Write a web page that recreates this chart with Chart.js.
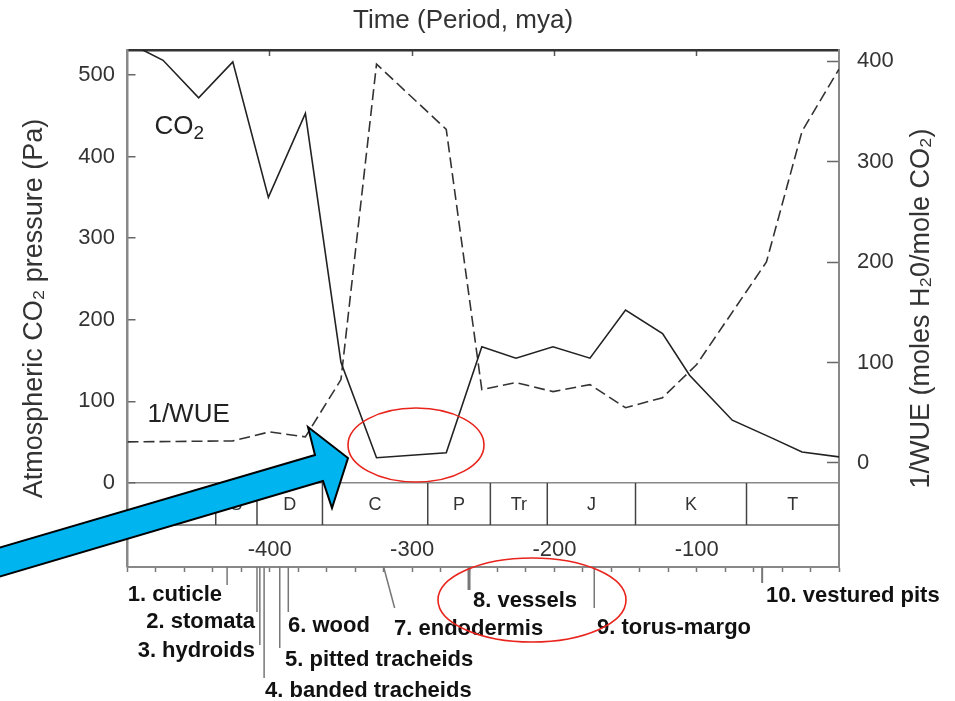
<!DOCTYPE html>
<html lang="en">
<head>
<meta charset="UTF-8">
<title>Atmospheric CO2 and 1/WUE through time</title>
<script src="https://cdn.jsdelivr.net/npm/chart.js@4.4.0/dist/chart.umd.min.js"></script>
<style>
    body { margin: 0; background: #fff; }
    #wrap { width: 955px; height: 701px; }
</style>
</head>
<body>
<div id="wrap"><canvas id="chart" width="955" height="701"></canvas></div>
<script>
// CO2 curve (time in mya, pressure in Pa) - left axis
const co2Mya = [-500, -475, -450, -426, -401, -375, -350, -325, -276, -251, -227, -201, -175, -150, -124, -105, -75, -47, -26, 0];
const co2Pa  = [540, 518, 472, 516, 350, 453, 148, 31, 37, 167, 153, 167, 153, 212, 183, 132, 77, 55, 38, 32];

// 1/WUE curve (time in mya, moles H2O per mole CO2) - right axis
const wueMya = [-500, -426, -400, -375, -350, -325, -276, -251, -227, -201, -175, -150, -124, -100, -51, -26, 0];
const wueVal = [21, 22, 31, 26, 83, 397, 332, 73, 80, 71, 78, 55, 65, 98, 200, 330, 392];

// tick labels
const co2Ticks = [0, 100, 200, 300, 400, 500];
const wueTicks = [0, 100, 200, 300, 400];
const timeLabels = [-400, -300, -200, -100];

// geological periods (start, mya)
const periodNames = ['O', 'S', 'D', 'C', 'P', 'Tr', 'J', 'K', 'T'];
const periodStart = [-500, -438, -409, -363, -289, -245, -205, -143, -65];
const periodEnd = 0;

// innovations in water transport (mya)
const innovationNames = ['1. cuticle', '2. stomata', '3. hydroids', '4. banded tracheids', '5. pitted tracheids',
    '6. wood', '7. endodermis', '8. vessels', '9. torus-margo', '10. vestured pits'];
const innovationMya = [-430, -409, -407, -404, -393, -387, -320, -260, -172, -54];

// where each innovation label sits (pixels)
const innovationLayout = [
    { len: 18, tx: 222, ty: 595, align: 'right' },
    { len: 45, tx: 255, ty: 622, align: 'right' },
    { len: 78, tx: 255, ty: 651, align: 'right' },
    { len: 111, tx: 265, ty: 691, align: 'left' },
    { len: 81, tx: 285, ty: 660, align: 'left' },
    { len: 45, tx: 288, ty: 626, align: 'left' },
    { len: 41, dx: 11, tx: 394, ty: 629, align: 'left' },
    { len: 23, tx: 473, ty: 601, align: 'left', w: 3 },
    { len: 41, tx: 597, ty: 628, align: 'left' },
    { len: 16, tx: 766, ty: 596, align: 'left', w: 2 }
];

const FONT = '"Liberation Sans", Arial, Helvetica, sans-serif';
Chart.defaults.font.family = FONT;
Chart.defaults.color = '#333';

const decor = {
    id: 'decor',
    afterDraw(chart) {
        const { ctx, chartArea: area } = chart;
        const x = chart.scales.x, y = chart.scales.y;
        const boxTop = y.getPixelForValue(0);
        const boxBottom = boxTop + 42;
        ctx.save();

        // period strip
        ctx.strokeStyle = '#666';
        ctx.lineWidth = 1.5;
        ctx.beginPath();
        ctx.moveTo(area.left, boxBottom);
        ctx.lineTo(area.right, boxBottom);
        ctx.stroke();
        ctx.fillStyle = '#333';
        ctx.font = '18px ' + FONT;
        ctx.textAlign = 'center';
        ctx.textBaseline = 'middle';
        periodNames.forEach((name, i) => {
            const x0 = x.getPixelForValue(periodStart[i]);
            const x1 = x.getPixelForValue(i + 1 < periodStart.length ? periodStart[i + 1] : periodEnd);
            if (i > 0) {
                ctx.strokeStyle = '#444';
                ctx.beginPath();
                ctx.moveTo(x0, boxTop);
                ctx.lineTo(x0, boxBottom);
                ctx.stroke();
            }
            ctx.fillText(name, (x0 + x1) / 2, (boxTop + boxBottom) / 2 + 1);
        });

        // series labels
        ctx.fillStyle = '#222';
        ctx.textAlign = 'left';
        const cx = x.getPixelForValue(-481), cy = y.getPixelForValue(436);
        ctx.font = '26px ' + FONT;
        ctx.fillText('CO', cx, cy);
        const coW = ctx.measureText('CO').width;
        ctx.font = '19px ' + FONT;
        ctx.fillText('2', cx + coW, cy + 7);
        ctx.font = '26px ' + FONT;
        ctx.fillText('1/WUE', x.getPixelForValue(-486), y.getPixelForValue(83));

        // top title
        ctx.fillStyle = '#333';
        ctx.textAlign = 'center';
        ctx.font = '26px ' + FONT;
        ctx.fillText('Time (Period, mya)', 463, 21);

        // right axis title (reads bottom to top)
        ctx.save();
        ctx.translate(922, (area.top + area.bottom) / 2);
        ctx.rotate(-Math.PI / 2);
        ctx.font = '27px ' + FONT;
        ctx.fillText('1/WUE (moles H₂0/mole CO₂)', 0, 0);
        ctx.restore();

        // innovations below the time axis
        ctx.font = 'bold 22px ' + FONT;
        ctx.fillStyle = '#111';
        innovationNames.forEach((name, i) => {
            const lay = innovationLayout[i];
            const px = x.getPixelForValue(innovationMya[i]);
            ctx.strokeStyle = '#777';
            ctx.lineWidth = lay.w || 1.5;
            ctx.beginPath();
            ctx.moveTo(px, area.bottom);
            ctx.lineTo(px + (lay.dx || 0), area.bottom + lay.len);
            ctx.stroke();
            ctx.textAlign = lay.align;
            ctx.fillText(name, lay.tx, lay.ty);
        });

        // red highlight ellipses
        ctx.strokeStyle = '#e8241c';
        ctx.lineWidth = 1.6;
        ctx.beginPath();
        ctx.ellipse(416, 445, 68, 37, 0, 0, Math.PI * 2);
        ctx.stroke();
        ctx.beginPath();
        ctx.ellipse(532, 600, 94, 42, 0, 0, Math.PI * 2);
        ctx.stroke();

        // blue arrow
        ctx.fillStyle = '#00b4f0';
        ctx.strokeStyle = '#000';
        ctx.lineWidth = 2;
        ctx.lineJoin = 'miter';
        ctx.beginPath();
        ctx.moveTo(-5, 549);
        ctx.lineTo(315, 455);
        ctx.lineTo(308, 427);
        ctx.lineTo(348, 458);
        ctx.lineTo(332, 508);
        ctx.lineTo(323, 481);
        ctx.lineTo(-5, 578);
        ctx.closePath();
        ctx.fill();
        ctx.stroke();

        ctx.restore();
    }
};

new Chart(document.getElementById('chart'), {
    type: 'line',
    data: {
        datasets: [
            {
                label: 'CO2',
                data: co2Mya.map((m, i) => ({ x: m, y: co2Pa[i] })),
                borderColor: '#222',
                borderWidth: 1.6,
                pointRadius: 0,
                xAxisID: 'x',
                yAxisID: 'y'
            },
            {
                label: '1/WUE',
                data: wueMya.map((m, i) => ({ x: m, y: wueVal[i] })),
                borderColor: '#333',
                borderWidth: 1.6,
                borderDash: [11, 5],
                pointRadius: 0,
                xAxisID: 'x',
                yAxisID: 'y1'
            }
        ]
    },
    options: {
        responsive: false,
        animation: false,
        events: [],
        layout: { padding: 0 },
        plugins: { legend: { display: false }, tooltip: { enabled: false } },
        scales: {
            x: {
                type: 'linear',
                position: 'bottom',
                min: -500,
                max: 0,
                ticks: {
                    stepSize: 20,
                    autoSkip: false,
                    maxRotation: 0,
                    minRotation: 0,
                    mirror: true,   // labels sit above the axis line, inside the frame
                    padding: 4,
                    color: '#333',
                    font: { size: 22 },
                    callback: v => timeLabels.includes(v) ? String(v) : ''
                },
                grid: { drawOnChartArea: false, tickLength: 5, tickColor: '#777', tickWidth: 1.5 },
                border: { color: '#888', width: 2 },
                afterFit: s => { s.height = 134; }
            },
            x2: {
                type: 'linear',
                position: 'top',
                min: -500,
                max: 0,
                afterBuildTicks: s => { s.ticks = timeLabels.map(v => ({ value: v })); },
                ticks: { display: false },
                grid: { drawOnChartArea: false, tickLength: -6, tickColor: '#555', tickWidth: 1.5 },
                border: { color: '#333', width: 2.5 },
                afterFit: s => { s.height = 50; }
            },
            y: {
                type: 'linear',
                position: 'left',
                min: -102.9,
                max: 530.6,
                afterBuildTicks: s => { s.ticks = co2Ticks.map(v => ({ value: v })); },
                ticks: { padding: 20.5, color: '#333', font: { size: 22 } },
                grid: {
                    tickLength: -8,
                    tickColor: '#666',
                    tickWidth: 1.5,
                    lineWidth: 1.5,
                    color: c => (c.tick && c.tick.value === 0) ? '#888' : 'rgba(0,0,0,0)'
                },
                border: { color: '#888', width: 2.5 },
                title: {
                    display: true,
                    text: 'Atmospheric CO₂ pressure (Pa)',
                    color: '#333',
                    font: { size: 27 },
                    padding: { top: 18, bottom: 0 }
                },
                afterFit: s => { s.width = 127.5; }
            },
            y1: {
                type: 'linear',
                position: 'right',
                min: -103.5,
                max: 411,
                afterBuildTicks: s => { s.ticks = wueTicks.map(v => ({ value: v })); },
                ticks: { padding: 30, color: '#333', font: { size: 22 } },
                grid: { drawOnChartArea: false, tickLength: -12, tickColor: '#666', tickWidth: 1.5 },
                border: { color: '#888', width: 2 },
                afterFit: s => { s.width = 116; }
            }
        }
    },
    plugins: [decor]
});
</script>
</body>
</html>
